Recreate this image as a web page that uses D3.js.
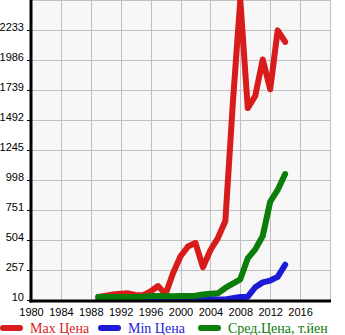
<!DOCTYPE html>
<html>
<head>
<meta charset="utf-8">
<script src="https://cdn.jsdelivr.net/npm/d3@7/dist/d3.min.js"></script>
<style>
  html, body { margin: 0; padding: 0; background: #ffffff; }
  svg { display: block; }
</style>
</head>
<body>
<svg id="chart" width="345" height="335"></svg>
<script>
// Price history by model year
const years = [1989, 1990, 1991, 1992, 1993, 1994, 1995, 1996, 1997, 1998, 1999, 2000, 2001,
               2002, 2003, 2004, 2005, 2006, 2007, 2008, 2009, 2010, 2011, 2012, 2013, 2014];
const maxPrice = [35, 45, 55, 62, 65, 52, 50, 80, 125, 58, 230, 370, 450,
                  480, 280, 420, 520, 660, 1630, 2480, 1590, 1690, 1990, 1745, 2230, 2135];
const minPrice = [12, 12, 12, 12, 12, 12, 15, 18, 20, 20, 20, 20, 18,
                  20, 20, 18, 15, 15, 25, 35, 37, 115, 155, 170, 200, 300];
const avgPrice = [35, 35, 35, 35, 35, 35, 36, 42, 42, 40, 40, 42, 43,
                  45, 55, 62, 65, 109, 144, 180, 353, 427, 537, 819, 916, 1047];

const xTicks = [1980, 1984, 1988, 1992, 1996, 2000, 2004, 2008, 2012, 2016];
const yTicks = [10, 257, 504, 751, 998, 1245, 1492, 1739, 1986, 2233];

const seriesNames = ["Max Цена", "Min Цена", "Сред.Цена, т.йен"];
const seriesColors = ["#d81c1c", "#1c1cd8", "#0a7d0a"];
const seriesValues = [maxPrice, minPrice, avgPrice];

const svg = d3.select("#chart");
const plotL = 31, plotR = 330, plotT = 0, plotB = 300;

const x = d3.scaleLinear().domain([1980, 2020]).range([plotL, plotR]);
const y = d3.scaleLinear().domain([10, 2480]).range([plotB, plotT]);

// plot background
svg.append("rect")
  .attr("x", plotL).attr("y", plotT)
  .attr("width", plotR - plotL).attr("height", plotB - plotT)
  .attr("fill", "#f7f7f7");

// grid
const grid = svg.append("g").attr("stroke", "#c0c0c0").attr("stroke-width", 1);
d3.range(1984, 2021, 4).forEach(v => {
  grid.append("line")
    .attr("x1", Math.round(x(v)) + 0.5).attr("x2", Math.round(x(v)) + 0.5)
    .attr("y1", plotT).attr("y2", plotB);
});
yTicks.slice(1).concat([2480]).forEach(v => {
  grid.append("line")
    .attr("x1", plotL).attr("x2", plotR)
    .attr("y1", Math.round(y(v)) + 0.5).attr("y2", Math.round(y(v)) + 0.5);
});

// clip lines to plot area
svg.append("clipPath").attr("id", "plotClip")
  .append("rect").attr("x", plotL).attr("y", plotT)
  .attr("width", plotR - plotL).attr("height", plotB - plotT);

const line = d3.line()
  .x((d, i) => x(years[i]))
  .y(d => y(d));

const lines = svg.append("g").attr("clip-path", "url(#plotClip)");
seriesValues.forEach((vals, k) => {
  lines.append("path")
    .datum(vals)
    .attr("d", line)
    .attr("fill", "none")
    .attr("stroke", seriesColors[k])
    .attr("stroke-width", 6)
    .attr("stroke-linejoin", "round")
    .attr("stroke-linecap", "round");
});

// y axis
const yAxis = svg.append("g")
  .attr("transform", `translate(${plotL - 1},0)`)
  .call(d3.axisLeft(y).tickValues(yTicks).tickSize(3).tickPadding(3).tickFormat(d3.format("d")));
yAxis.select(".domain").remove();
yAxis.selectAll(".tick text")
  .attr("dy", 0)
  .attr("font-family", "Liberation Sans, Arial, sans-serif")
  .attr("font-size", 11)
  .attr("fill", "#000");

// x axis
const xAxis = svg.append("g")
  .attr("transform", `translate(0,${plotB + 1})`)
  .call(d3.axisBottom(x).tickValues(xTicks).tickSize(0).tickPadding(0).tickFormat(d3.format("d")));
xAxis.select(".domain").remove();
xAxis.selectAll(".tick text")
  .attr("y", 15)
  .attr("dy", 0)
  .attr("font-family", "Liberation Sans, Arial, sans-serif")
  .attr("font-size", 11)
  .attr("fill", "#000");

// axis lines
svg.append("line")
  .attr("x1", plotL).attr("x2", plotL)
  .attr("y1", plotT).attr("y2", plotB + 2.5)
  .attr("stroke", "#000").attr("stroke-width", 3);
svg.append("line")
  .attr("x1", plotL - 1.5).attr("x2", plotR + 1)
  .attr("y1", plotB + 1).attr("y2", plotB + 1)
  .attr("stroke", "#000").attr("stroke-width", 3);

// legend
const legendX = [0, 98, 198];
const legend = svg.append("g");
seriesNames.forEach((name, k) => {
  legend.append("line")
    .attr("x1", legendX[k] + 3).attr("x2", legendX[k] + 20)
    .attr("y1", 328).attr("y2", 328)
    .attr("stroke", seriesColors[k])
    .attr("stroke-width", 6)
    .attr("stroke-linecap", "round");
  legend.append("text")
    .attr("x", legendX[k] + 30).attr("y", 333)
    .attr("font-family", "Liberation Serif, Times New Roman, serif")
    .attr("font-size", 14)
    .attr("fill", seriesColors[k])
    .text(name);
});
</script>
</body>
</html>
